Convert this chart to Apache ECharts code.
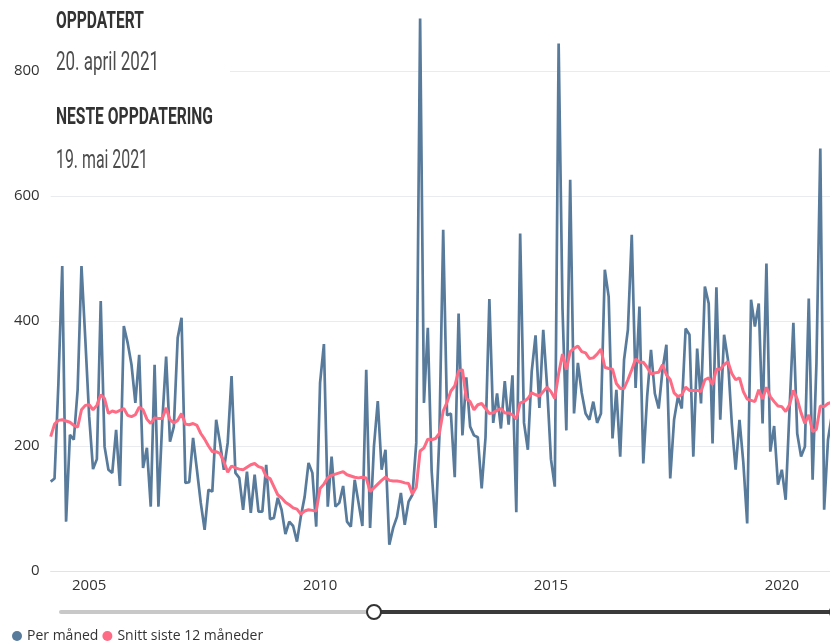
<!DOCTYPE html>
<html>
<head>
<meta charset="utf-8">
<title>Per måned</title>
<script src="https://cdn.jsdelivr.net/npm/echarts@6/dist/echarts.min.js"></script>
<style>
    html, body { margin: 0; padding: 0; background: #fff; }
    #chart { width: 830px; height: 643px; }
</style>
</head>
<body>
<div id="chart"></div>
<script>
    // første måned i serien: mars 2004
    var startYear = 2004;
    var startMonth = 3;

    // tall per måned
    var perMaaned = [
        143, 148, 300, 488, 79, 218, 210, 290, 488, 370,
        247, 163, 179, 432, 199, 162, 157, 226, 136, 392,
        365, 330, 269, 346, 165, 197, 103, 330, 103, 240,
        343, 207, 231, 373, 405, 141, 142, 213, 162, 109,
        66, 130, 127, 242, 205, 162, 205, 312, 157, 149,
        98, 159, 93, 154, 95, 95, 170, 83, 85, 117,
        98, 59, 79, 72, 47, 87, 119, 173, 157, 71,
        301, 363, 103, 183, 103, 109, 136, 79, 71, 146,
        109, 72, 322, 69, 199, 272, 162, 194, 42, 69,
        87, 125, 74, 111, 122, 205, 884, 269, 389, 160,
        69, 214, 546, 249, 252, 150, 412, 217, 310, 231,
        217, 214, 132, 214, 435, 237, 284, 228, 304, 234,
        313, 94, 540, 237, 194, 319, 377, 261, 386, 295,
        179, 135, 844, 420, 225, 626, 252, 333, 285, 252,
        242, 271, 237, 252, 482, 439, 212, 290, 183, 338,
        386, 538, 293, 423, 172, 279, 354, 284, 260, 322,
        362, 148, 242, 279, 260, 388, 378, 183, 356, 268,
        455, 428, 204, 454, 242, 378, 338, 236, 162, 242,
        173, 76, 434, 391, 428, 236, 492, 191, 232, 138,
        162, 114, 258, 397, 220, 183, 199, 436, 146, 333,
        676, 98, 210, 250, 230
    ];

    // snitt siste 12 måneder
    var snitt12 = [
        215, 235, 241, 242, 240, 238, 233, 230, 258, 265,
        266, 258, 265, 282, 276, 252, 256, 254, 257, 260,
        249, 247, 250, 262, 258, 243, 236, 245, 244, 244,
        261, 242, 237, 241, 252, 235, 234, 236, 233, 220,
        211, 200, 191, 191, 188, 175, 158, 168, 165, 163,
        162, 166, 170, 172, 167, 165, 151, 148, 135, 122,
        117, 110, 106, 101, 99, 91, 96, 98, 97, 96,
        132, 139, 149, 153, 155, 157, 159, 154, 152, 150,
        149, 150, 149, 127, 133, 139, 145, 150, 145, 144,
        144, 143, 141, 140, 123, 134, 192, 197, 211, 210,
        212, 220, 256, 270, 288, 296, 320, 322, 276, 271,
        258, 266, 268, 260, 252, 253, 257, 260, 253, 253,
        250, 243, 269, 271, 276, 285, 282, 280, 287, 294,
        287, 276, 316, 347, 322, 351, 356, 360, 351, 349,
        340, 341, 347, 355, 326, 324, 323, 300, 292, 292,
        306, 322, 339, 334, 334, 326, 315, 317, 318, 330,
        314, 306, 285, 279, 282, 294, 289, 289, 289, 287,
        306, 309, 298, 323, 323, 330, 335, 316, 306, 309,
        287, 275, 273, 271, 290, 275, 294, 279, 271, 264,
        263, 255, 266, 289, 275, 253, 236, 250, 223, 227,
        264, 263, 268, 270, 268
    ];

    var yearTicks = ['2005', '2010', '2015', '2020'];
    var yTicks = [0, 200, 400, 600, 800];

    // måneder som kategorier, "2004-03" osv.
    var months = perMaaned.map(function (v, i) {
        var m = startMonth - 1 + i;
        var mm = m % 12 + 1;
        return (startYear + Math.floor(m / 12)) + '-' + (mm < 10 ? '0' + mm : mm);
    });

    // skalerer smal tekst til ønsket bredde
    var measureCtx = document.createElement('canvas').getContext('2d');
    function headText(str, font, x, y, w, color) {
        measureCtx.font = font;
        var real = measureCtx.measureText(str).width;
        return {
            type: 'text',
            x: x,
            y: y,
            scaleX: w / real,
            z: 3,
            style: {
                text: str,
                font: font,
                fill: color,
                verticalAlign: 'middle'
            }
        };
    }

    var chart = echarts.init(document.getElementById('chart'));
    var option = {
        animation: false,
        grid: {
            left: 50.7,
            top: 8.5,
            width: 785,
            height: 562.5,
            containLabel: false,
            outerBoundsMode: 'none'
        },
        legend: {
            left: 7,
            top: 624,
            icon: 'circle',
            itemWidth: 10,
            itemHeight: 10,
            itemGap: 4,
            textStyle: {
                fontFamily: 'Open Sans',
                fontSize: 14,
                color: '#333'
            },
            data: ['Per måned', 'Snitt siste 12 måneder']
        },
        xAxis: {
            type: 'category',
            boundaryGap: false,
            data: months,
            axisTick: { show: false },
            axisLine: { lineStyle: { color: '#dfe4ea', width: 1 } },
            axisLabel: {
                interval: function (i, v) {
                    return v.slice(5) === '01' && yearTicks.indexOf(v.slice(0, 4)) >= 0;
                },
                formatter: function (v) {
                    return v.slice(0, 4);
                },
                margin: 7,
                fontFamily: 'Open Sans',
                fontSize: 15,
                color: '#333'
            },
            splitLine: { show: false }
        },
        yAxis: {
            type: 'value',
            min: yTicks[0],
            max: 900,
            interval: 200,
            axisLine: { show: false },
            axisTick: { show: false },
            axisLabel: {
                showMaxLabel: false,
                margin: 11,
                fontFamily: 'Open Sans',
                fontSize: 15,
                color: '#333'
            },
            splitLine: {
                showMaxLine: false,
                lineStyle: { color: '#e8ecef', width: 1 }
            }
        },
        graphic: [
            // hvit boks bak oppdatert-teksten
            { type: 'rect', shape: { x: 50, y: 0, width: 180, height: 184 }, style: { fill: '#fff' }, z: 1 },
            headText('OPPDATERT', 'bold 24px Roboto', 56, 21.5, 88, '#333'),
            headText('20. april 2021', '26px Roboto', 56, 63.5, 103, '#4d4d4d'),
            headText('NESTE OPPDATERING', 'bold 24px Roboto', 56, 118, 157, '#333'),
            headText('19. mai 2021', '26px Roboto', 56, 161, 92, '#4d4d4d'),
            // tidslinje under grafen
            { type: 'line', shape: { x1: 61, y1: 612, x2: 367, y2: 612 }, style: { stroke: '#c8c8c8', lineWidth: 4, lineCap: 'round' }, z: 3 },
            { type: 'line', shape: { x1: 381, y1: 612, x2: 840, y2: 612 }, style: { stroke: '#3a3a3a', lineWidth: 4 }, z: 3 },
            { type: 'circle', shape: { cx: 374, cy: 612, r: 7 }, style: { fill: '#fff', stroke: '#333', lineWidth: 2 }, z: 4 },
            { type: 'circle', shape: { cx: 837, cy: 612, r: 7 }, style: { fill: '#fff', stroke: '#333', lineWidth: 2 }, z: 4 }
        ],
        series: [
            {
                name: 'Per måned',
                type: 'line',
                data: perMaaned,
                symbol: 'none',
                itemStyle: { color: '#587a9b' },
                lineStyle: { color: '#587a9b', width: 2.7 },
                z: 2
            },
            {
                name: 'Snitt siste 12 måneder',
                type: 'line',
                data: snitt12,
                symbol: 'none',
                itemStyle: { color: '#fd6b84' },
                lineStyle: { color: '#fd6b84', width: 3 },
                z: 3
            }
        ]
    };

    chart.setOption(option);
</script>
</body>
</html>
